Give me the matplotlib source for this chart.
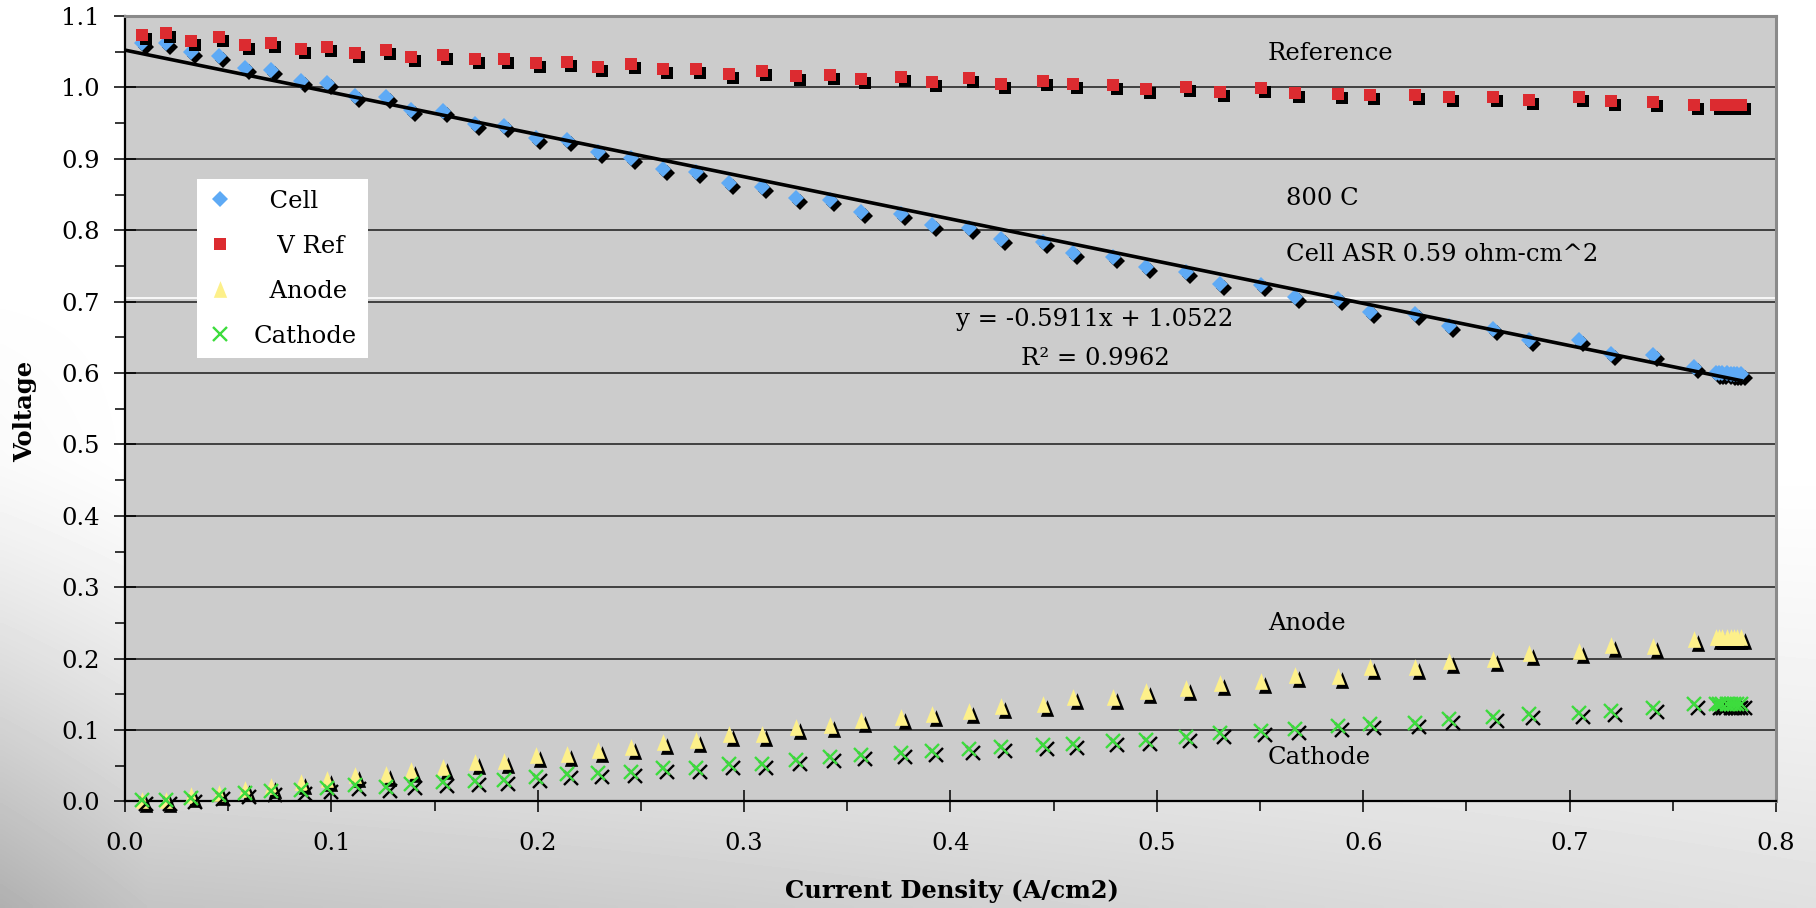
import numpy as np
import matplotlib
matplotlib.use("Agg")
import matplotlib.pyplot as plt
from matplotlib.ticker import MultipleLocator, FormatStrFormatter
from matplotlib.transforms import offset_copy

# current density (A/cm2), shared by all four series
current = [0.0084, 0.0199, 0.032, 0.0454, 0.0583, 0.0707, 0.0855, 0.0981, 0.1116, 0.1263,
           0.1388, 0.1541, 0.1695, 0.1835, 0.1992, 0.2141, 0.2293, 0.2451, 0.2606, 0.2767,
           0.2928, 0.3086, 0.3253, 0.3416, 0.3565, 0.376, 0.3908, 0.4088, 0.4247, 0.445,
           0.4594, 0.4789, 0.4947, 0.5142, 0.5307, 0.5506, 0.5668, 0.5878, 0.6033, 0.6251,
           0.6414, 0.6627, 0.6802, 0.7047, 0.7202, 0.7406, 0.7601,
           0.771, 0.7725, 0.774, 0.776, 0.778, 0.7795, 0.781, 0.783]

cell = [1.062, 1.062, 1.049, 1.044, 1.0275, 1.025, 1.009, 1.0065, 0.988, 0.986,
        0.969, 0.9667, 0.9488, 0.9464, 0.929, 0.926, 0.909, 0.9016, 0.886, 0.8814,
        0.8659, 0.8612, 0.8458, 0.8424, 0.826, 0.8222, 0.8073, 0.8026, 0.7876, 0.783,
        0.7675, 0.7628, 0.748, 0.742, 0.7253, 0.723, 0.7066, 0.7042, 0.6855, 0.6832,
        0.6654, 0.6621, 0.6457, 0.6457, 0.627, 0.6246, 0.6083,
        0.600, 0.600, 0.600, 0.5995, 0.599, 0.599, 0.5985, 0.598]

v_ref = [1.073, 1.0767, 1.065, 1.0707, 1.0594, 1.0627, 1.054, 1.0566, 1.0486, 1.0519,
         1.0426, 1.0454, 1.0393, 1.0403, 1.0336, 1.036, 1.0285, 1.0322, 1.0252, 1.0252,
         1.0191, 1.0229, 1.0159, 1.0173, 1.0111, 1.015, 1.0079, 1.0125, 1.005, 1.0089,
         1.0041, 1.0032, 0.9971, 1.0004, 0.9938, 0.9985, 0.9924, 0.991, 0.99, 0.9892,
         0.9864, 0.9864, 0.983, 0.9864, 0.9807, 0.9797, 0.976,
         0.975, 0.975, 0.975, 0.975, 0.975, 0.975, 0.975, 0.975]

anode = [0.0014, 0.0024, 0.0084, 0.0117, 0.0178, 0.0211, 0.0272, 0.0319, 0.0365, 0.0389,
         0.0445, 0.0482, 0.0553, 0.0562, 0.0647, 0.067, 0.0727, 0.0763, 0.0834, 0.0857,
         0.0952, 0.0952, 0.1044, 0.1068, 0.1148, 0.1185, 0.1232, 0.1265, 0.1335, 0.1363,
         0.1457, 0.1457, 0.155, 0.1584, 0.1654, 0.1691, 0.1771, 0.1757, 0.1879, 0.1879,
         0.1972, 0.1996, 0.2085, 0.2113, 0.2193, 0.2179, 0.2273,
         0.2301, 0.2301, 0.2301, 0.2301, 0.2301, 0.2301, 0.2301, 0.2301]

cathode = [0.0014, 0.0014, 0.0052, 0.0084, 0.0117, 0.0145, 0.0164, 0.0192, 0.0225, 0.0201,
           0.0248, 0.0272, 0.0286, 0.0305, 0.0342, 0.038, 0.0398, 0.0412, 0.0473, 0.0473,
           0.053, 0.052, 0.0586, 0.0623, 0.0647, 0.0679, 0.0707, 0.0741, 0.0763, 0.0787,
           0.0811, 0.0848, 0.0867, 0.0904, 0.096, 0.0988, 0.1022, 0.1054, 0.1082, 0.1101,
           0.1162, 0.1185, 0.1223, 0.1241, 0.127, 0.1303, 0.1363,
           0.1363, 0.1363, 0.1363, 0.1363, 0.1363, 0.1363, 0.1363, 0.1363]

# linear trendline of the cell voltage (from the chart label)
fit_slope = -0.5911
fit_intercept = 1.0522

x_ticks = [0.0, 0.1, 0.2, 0.3, 0.4, 0.5, 0.6, 0.7, 0.8]
y_ticks = [0.0, 0.1, 0.2, 0.3, 0.4, 0.5, 0.6, 0.7, 0.8, 0.9, 1.0, 1.1]

plt.rcParams['font.family'] = ['DejaVu Serif']
FS = 17.5

fig = plt.figure(figsize=(18.16, 9.08), dpi=100)

# soft grey backdrop, darker toward the bottom-left corner
bg = fig.add_axes([0, 0, 1, 1], zorder=-10)
gy, gx = np.mgrid[0:1:200j, 0:1:400j]
shade = np.clip((gy - 0.5) / 0.5, 0, 1) ** 1.3 * (1 - 0.5 * gx) * 0.24
shade += np.clip((0.08 - gx) / 0.08, 0, 1) * np.clip((gy - 0.3) / 0.7, 0, 1) * 0.07
bg.imshow(1 - shade, cmap='gray', vmin=0, vmax=1, aspect='auto',
          extent=[0, 1, 1, 0], interpolation='bilinear')
bg.set_axis_off()

ax = fig.add_axes([0.0688, 0.1173, 0.9092, 0.8651])
ax.set_facecolor('#cccccc')
ax.set_xlim(0, 0.8)
ax.set_ylim(0, 1.1)

# horizontal gridlines
for yv in y_ticks[1:-1]:
    ax.axhline(yv, color='#1a1a1a', lw=1.1, zorder=1)
ax.axhline(0.705, color='white', lw=1.2, zorder=1)

shadow = offset_copy(ax.transData, fig=fig, x=4, y=-4, units='dots')

tri = [(0, 1), (-0.8, -1), (0.8, -1), (0, 1)]
series = [
    (cell, 'D', 8.3, '#5eaaf5'),
    (v_ref, 's', 9, '#dc2b30'),
    (anode, tri, 12, '#fdf08a'),
    (cathode, 'x', 9.5, '#3ddc3d'),
]
leg_labels = ['  Cell', '   V Ref', '  Anode', 'Cathode']
handles = []
for i, (vals, mk, ms, col) in enumerate(series):
    mew = 1.7 if mk == 'x' else 0
    ax.plot(current, vals, ls='none', marker=mk, ms=ms, color='black', mew=mew,
            transform=shadow, clip_on=False, zorder=3 + 2 * i)
    h, = ax.plot(current, vals, ls='none', marker=mk, ms=ms, color=col, mew=mew,
                 clip_on=False, zorder=4 + 2 * i)
    handles.append(h)

# trendline
tx = np.array([0.0, max(current)])
ax.plot(tx, fit_slope * tx + fit_intercept, color='black', lw=2.6, zorder=12)

# ticks and spines
ax.xaxis.set_major_locator(MultipleLocator(0.1))
ax.xaxis.set_minor_locator(MultipleLocator(0.05))
ax.yaxis.set_major_locator(MultipleLocator(0.1))
ax.yaxis.set_minor_locator(MultipleLocator(0.05))
ax.xaxis.set_major_formatter(FormatStrFormatter('%.1f'))
ax.yaxis.set_major_formatter(FormatStrFormatter('%.1f'))
ax.tick_params(which='major', direction='inout', length=16, width=1.1, labelsize=FS,
               color='black')
ax.tick_params(axis='x', which='major', pad=14)
ax.tick_params(axis='y', which='major', pad=10)
ax.tick_params(which='minor', direction='out', length=7, width=1.1, color='black')
for s in ['left', 'bottom']:
    ax.spines[s].set_color('black')
    ax.spines[s].set_linewidth(1.6)
for s in ['top', 'right']:
    ax.spines[s].set_color('#8a8a8a')
    ax.spines[s].set_linewidth(2.2)

# annotations
ax.text(0.5537, 1.047, 'Reference', fontsize=FS, ha='left', va='center', zorder=15)
ax.text(0.5624, 0.845, '800 C', fontsize=FS, ha='left', va='center', zorder=15)
ax.text(0.5624, 0.7654, 'Cell ASR 0.59 ohm-cm^2', fontsize=FS, ha='left', va='center',
        zorder=15)
ax.text(0.5537, 0.2486, 'Anode', fontsize=FS, ha='left', va='center', zorder=15)
ax.text(0.5537, 0.061, 'Cathode', fontsize=FS, ha='left', va='center', zorder=15)
ax.text(0.470, 0.6744, 'y = %.4fx + %.4f' % (fit_slope, fit_intercept), fontsize=FS,
        ha='center', va='center', zorder=15)
ax.text(0.470, 0.6197, 'R\u00b2 = 0.9962', fontsize=FS, ha='center', va='center',
        zorder=15)

leg = ax.legend(handles, leg_labels, loc='upper left', bbox_to_anchor=(0.0436, 0.7925),
                borderaxespad=0, frameon=True, fancybox=False, facecolor='white',
                edgecolor='none', framealpha=1, fontsize=FS, handlelength=1.0,
                handletextpad=0.9, borderpad=0.45, labelspacing=0.9, numpoints=1)
leg.set_zorder(20)

fig.text(25.5 / 1816, 1 - 411 / 908, 'Voltage', rotation=90, fontsize=FS,
         fontweight='bold', ha='center', va='center')
fig.text(952 / 1816, 1 - 891 / 908, 'Current Density (A/cm2)', fontsize=FS,
         fontweight='bold', ha='center', va='center')

fig.savefig('out.png', dpi=100)
